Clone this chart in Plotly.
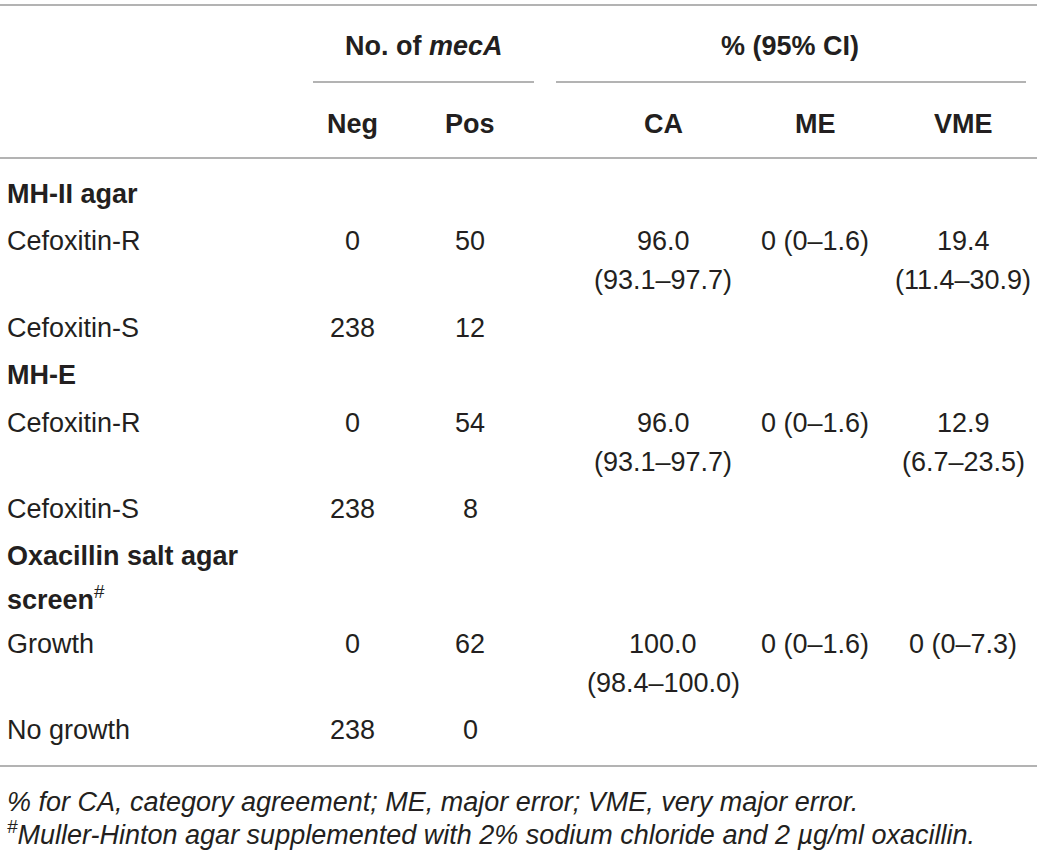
import plotly.graph_objects as go

# table content
groups = ["MH-II agar", "MH-E", "Oxacillin salt agar<br>screen<sup>#</sup>"]
row_labels = ["Cefoxitin-R", "Cefoxitin-S", "Cefoxitin-R", "Cefoxitin-S", "Growth", "No growth"]
neg = ["0", "238", "0", "238", "0", "238"]
pos = ["50", "12", "54", "8", "62", "0"]
ca = ["96.0", "", "96.0", "", "100.0", ""]
ca_ci = ["(93.1–97.7)", "", "(93.1–97.7)", "", "(98.4–100.0)", ""]
me = ["0 (0–1.6)", "", "0 (0–1.6)", "", "0 (0–1.6)", ""]
vme = ["19.4", "", "12.9", "", "0 (0–7.3)", ""]
vme_ci = ["(11.4–30.9)", "", "(6.7–23.5)", "", "", ""]
col_heads = ["Neg", "Pos", "CA", "ME", "VME"]
footnotes = [
    "% for CA, category agreement; ME, major error; VME, very major error.",
    "<sup>#</sup>Muller-Hinton agar supplemented with 2% sodium chloride and 2 µg/ml oxacillin.",
]

W, H = 1039, 852
TXT = "#231f20"
RULE = "#9a9a9a"
FONT = "Liberation Sans"
FS = 27

col_x = [352, 470, 663, 815, 963]
group_y = [194, 375, 556]
row_y = [241, 328, 423, 509, 644, 730]
ci_dy = 39

ann = []


def add(text, x, y, xanchor="center", bold=False, italic=False, size=FS):
    if bold:
        text = "<b>" + text + "</b>"
    if italic:
        text = "<i>" + text + "</i>"
    ann.append(dict(x=x, y=y, xref="x", yref="y", text=text, showarrow=False,
                    xanchor=xanchor, yanchor="middle",
                    font=dict(family=FONT, size=size, color=TXT)))


# header
add("<b>No. of </b><b><i>mecA</i></b>", 424, 46)
add("% (95% CI)", 790, 46, bold=True)
for h, x in zip(col_heads, col_x):
    add(h, x, 124, bold=True)

# group labels
add(groups[0], 5, group_y[0], xanchor="left", bold=True)
add(groups[1], 5, group_y[1], xanchor="left", bold=True)
add("<b>Oxacillin salt agar</b>", 5, 556, xanchor="left")
add("<b>screen</b><sup>#</sup>", 5, 598, xanchor="left")

# body rows
for i, lab in enumerate(row_labels):
    y = row_y[i]
    add(lab, 5, y, xanchor="left")
    add(neg[i], col_x[0], y)
    add(pos[i], col_x[1], y)
    if ca[i]:
        add(ca[i], col_x[2], y)
        add(ca_ci[i], col_x[2], y + ci_dy)
    if me[i]:
        add(me[i], col_x[3], y)
    if vme[i]:
        add(vme[i], col_x[4], y)
    if vme_ci[i]:
        add(vme_ci[i], col_x[4], y + ci_dy)

# footnotes
add(footnotes[0], 5, 802, xanchor="left", italic=True, size=27)
add(footnotes[1], 5, 833, xanchor="left", italic=True, size=27)

shapes = []
for x0, x1, y in [(0, 1037, 5), (313, 534, 82), (556, 1026, 82), (0, 1037, 158), (0, 1037, 766)]:
    shapes.append(dict(type="line", xref="x", yref="y", x0=x0, x1=x1, y0=y, y1=y,
                       line=dict(color=RULE, width=1.5)))

fig = go.Figure()
fig.update_layout(
    width=W, height=H,
    margin=dict(l=0, r=0, t=0, b=0),
    paper_bgcolor="white", plot_bgcolor="white",
    xaxis=dict(range=[0, W], visible=False, fixedrange=True),
    yaxis=dict(range=[H, 0], visible=False, fixedrange=True),
    annotations=ann, shapes=shapes, showlegend=False,
)
fig.write_html("out.html", config={"displayModeBar": False},
               post_script="document.body.style.margin='0px';")
